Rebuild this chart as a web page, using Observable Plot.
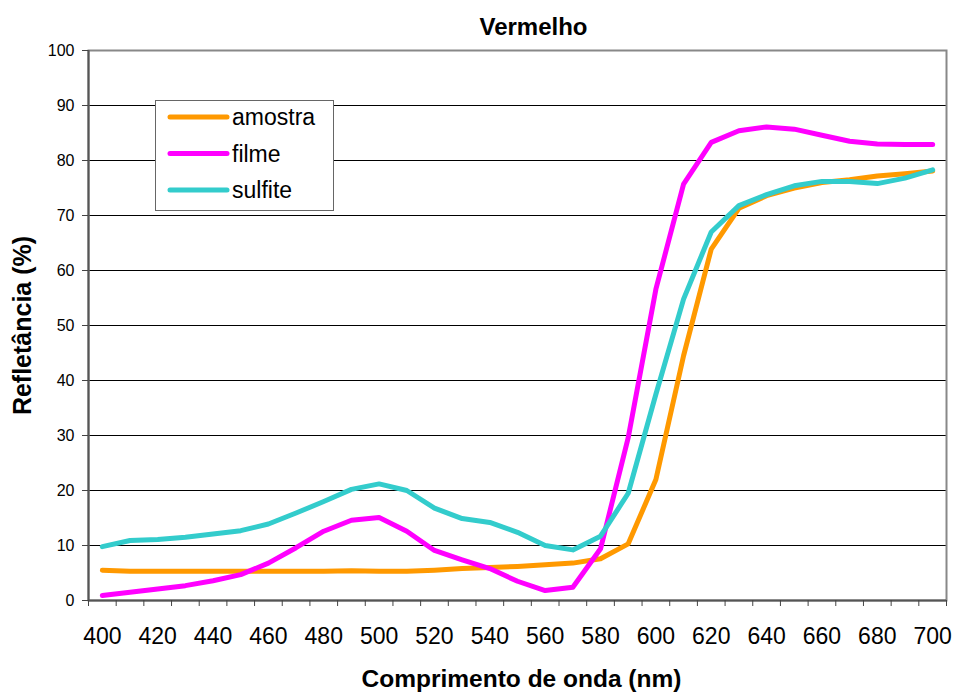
<!DOCTYPE html>
<html>
<head>
<meta charset="utf-8">
<script src="https://cdn.jsdelivr.net/npm/d3@7"></script>
<script src="https://cdn.jsdelivr.net/npm/@observablehq/plot@0.6"></script>
<style>
  html, body { margin: 0; padding: 0; background: #fff; }
</style>
</head>
<body>
<div id="chart"></div>
<script>
const wavelengths = [400,410,420,430,440,450,460,470,480,490,500,510,520,530,540,550,560,570,580,590,600,610,620,630,640,650,660,670,680,690,700];
const amostra = [5.5,5.3,5.3,5.3,5.3,5.3,5.3,5.3,5.3,5.4,5.3,5.3,5.5,5.8,6.0,6.2,6.5,6.8,7.6,10.3,22.0,44.5,63.9,71.3,73.6,75.0,76.0,76.5,77.2,77.6,78.1];
const filme = [0.9,1.5,2.1,2.7,3.6,4.7,6.8,9.6,12.6,14.6,15.1,12.6,9.1,7.4,5.8,3.5,1.8,2.4,9.4,29.6,56.6,75.7,83.3,85.4,86.1,85.7,84.6,83.5,83.0,82.9,82.9];
const sulfite = [9.8,10.9,11.1,11.5,12.1,12.7,13.9,15.9,18.0,20.2,21.2,20.0,16.8,14.9,14.2,12.4,10.0,9.2,11.7,19.5,37.5,54.8,67.0,71.8,73.8,75.4,76.2,76.2,75.8,76.8,78.3];
const seriesNames = ["amostra", "filme", "sulfite"];
const seriesColors = ["#FF9900", "#FF00FF", "#33CCCC"];
const yTicks = [0,10,20,30,40,50,60,70,80,90,100];
const xTickLabels = [400,420,440,460,480,500,520,540,560,580,600,620,640,660,680,700];
const xTickMarks = [395,405,415,425,435,445,455,465,475,485,495,505,515,525,535,545,555,565,575,585,595,605,615,625,635,645,655,665,675,685,695,705];
const titleText = "Vermelho";
const xLabel = "Comprimento de onda (nm)";
const yLabel = "Refletância (%)";

const seriesValues = [amostra, filme, sulfite];
const data = [];
seriesNames.forEach((name, i) => {
  wavelengths.forEach((w, j) => data.push({series: name, wl: w, value: seriesValues[i][j]}));
});

const font = "'Liberation Sans', Arial, sans-serif";

const chart = Plot.plot({
  width: 956,
  height: 693,
  marginLeft: 88,
  marginRight: 10,
  marginTop: 50,
  marginBottom: 93,
  style: {fontFamily: font, background: "#fff", color: "#000"},
  x: {type: "linear", domain: [395, 705]},
  y: {domain: [0, 100]},
  color: {domain: seriesNames, range: seriesColors},
  marks: [
    Plot.gridY(yTicks, {stroke: "#000", strokeOpacity: 1, strokeWidth: 1}),
    Plot.frame({stroke: "#888", strokeWidth: 2}),
    Plot.ruleX([395], {stroke: "#555", strokeWidth: 2}),
    Plot.ruleY([0], {stroke: "#555", strokeWidth: 2}),
    Plot.axisY(yTicks, {tickSize: 6, tickPadding: 8, fontSize: 16, label: null, stroke: "#444"}),
    Plot.axisX(xTickMarks, {tickSize: 6, tickFormat: () => "", label: null, stroke: "#444"}),
    Plot.axisX(xTickLabels, {tickSize: 0, tickPadding: 27, fontSize: 23, label: null}),
    Plot.line(data, {x: "wl", y: "value", z: "series", stroke: "series", strokeWidth: 5, strokeLinejoin: "round", strokeLinecap: "round"}),
    Plot.text([titleText], {frameAnchor: "top", dx: 16, dy: -23, fontSize: 24, fontWeight: "bold", lineAnchor: "middle"}),
    Plot.text([xLabel], {frameAnchor: "bottom", dx: 4, dy: 79, fontSize: 24.5, fontWeight: "bold", lineAnchor: "middle"}),
    Plot.text([yLabel], {frameAnchor: "left", dx: -66, rotate: -90, fontSize: 25, fontWeight: "bold", textAnchor: "middle", lineAnchor: "middle"})
  ]
});

document.getElementById("chart").appendChild(chart);

// Legend box
const svg = d3.select(chart);
const lg = svg.append("g").attr("font-family", font).attr("text-anchor", "start");
lg.append("rect").attr("x", 155.5).attr("y", 100.5).attr("width", 178).attr("height", 110)
  .attr("fill", "#fff").attr("stroke", "#666").attr("stroke-width", 1);
seriesNames.forEach((name, i) => {
  const y = 117 + i * 36.5;
  lg.append("line").attr("x1", 170).attr("x2", 227).attr("y1", y).attr("y2", y)
    .attr("stroke", seriesColors[i]).attr("stroke-width", 5).attr("stroke-linecap", "round");
  lg.append("text").attr("x", 232).attr("y", y).attr("dy", "0.35em")
    .attr("font-size", 23).attr("fill", "#000").attr("text-anchor", "start").text(name);
});
</script>
</body>
</html>
